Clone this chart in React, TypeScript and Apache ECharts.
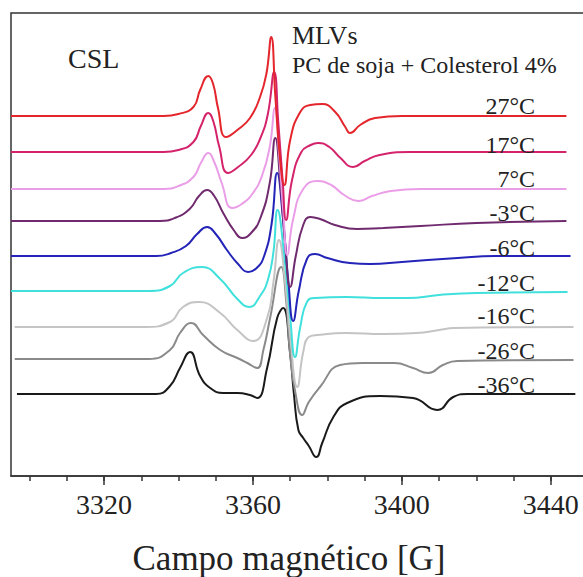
import React, { useEffect, useRef } from "react";
import * as echarts from "echarts";

// Temperatures (legend labels written on the curves)
const temperatures = ["27°C", "17°C", "7°C", "-3°C", "-6°C", "-12°C", "-16°C", "-26°C", "-36°C"];
// vertical offset of each spectrum (arbitrary intensity units)
const offsets = [360, 324, 287, 255, 220, 184, 149, 116, 82];
const colors = ["#e4252c", "#d4236b", "#eb9ee8", "#702a6e", "#2424b8", "#40e0dc", "#c4c4c4", "#8a8a8a", "#1a1a1a"];

// Spectra: [field (G), intensity relative to baseline]
const spec27 = [[3295,0],[3336,0],[3340,2],[3344,9],[3345.8,26],[3348,40],[3349.3,32],[3350.6,8],[3352.8,-21],[3355.8,-14],[3359.2,-2],[3361.9,19],[3363.6,42],[3364.9,79],[3366,20],[3367.3,-44],[3368.4,-69],[3370,-24],[3372.7,4],[3375.4,11],[3378.6,12],[3382.1,4],[3384.8,-11],[3386.1,-17],[3388.8,-9],[3392.8,-2],[3400,0],[3444.2,0]];
const spec17 = [[3295,0],[3336,0],[3340,2],[3344,10],[3346,26],[3348,39],[3349.4,30],[3350.9,6],[3353.3,-21],[3356,-15],[3359.5,-3],[3362,14],[3364,38],[3365.7,80],[3366.8,30],[3368,-30],[3368.9,-68],[3370.5,-28],[3373,0],[3375.5,7],[3377.5,9],[3380.5,5],[3383.5,-6],[3386.9,-15],[3390,-9],[3394,-3],[3402,0],[3444.2,0]];
const spec7 = [[3295,0],[3336,0],[3340,3],[3344,12],[3346,26],[3348,36],[3349.6,27],[3351.6,6],[3354.4,-19],[3357,-15],[3360,-4],[3362.5,14],[3364.5,42],[3365.9,81],[3367,35],[3368.2,-25],[3369.2,-66],[3370.8,-30],[3373.5,0],[3377.3,8],[3381,4],[3384.5,-6],[3388.3,-12],[3392,-7],[3397,-2],[3405,0],[3444.2,0]];
const specM3 = [[3295,0],[3335,0],[3339,3],[3343,12],[3345.5,25],[3347.7,31],[3349.6,25],[3352,8],[3355,-10],[3357.1,-17],[3359.5,-12],[3362,3],[3364.5,38],[3366,83],[3367.3,40],[3368.7,-25],[3370,-66],[3371.5,-35],[3373.5,-4],[3375.4,4],[3378,2],[3382,-4],[3388,-8],[3395,-7],[3405,-5],[3420,-2],[3444.2,0]];
const specM6 = [[3295,0],[3334,0],[3338,3],[3342,10],[3345,22],[3347.7,29],[3350,22],[3353,6],[3356,-8],[3358.7,-16],[3361,-12],[3363,0],[3365,32],[3366.5,83],[3368,40],[3369.5,-25],[3370.8,-65],[3372.3,-35],[3374.5,-3],[3376.7,2],[3380,-2],[3386,-7],[3391.5,-8],[3400,-6],[3415,-2],[3425,0],[3445.3,0]];
const specM12 = [[3295,1],[3332,1],[3337.7,6],[3341.2,19],[3346.3,25],[3351.2,13],[3355.8,-7],[3359,-15],[3361.9,-4],[3364,12],[3365.5,40],[3366.6,82],[3368.3,40],[3370,-25],[3371.3,-65],[3372.7,-35],[3374.5,-10],[3376.7,-6],[3385,-5],[3395,-6],[3401.5,-6],[3410,-3],[3420,-1],[3444.5,0]];
const specM16 = [[3296,0],[3331,0],[3337.7,5],[3341.2,20],[3345.5,25],[3351.2,14],[3355.8,-3],[3360.1,-14],[3363.8,9],[3365.5,45],[3367,87],[3368.5,50],[3370,-10],[3371.9,-60],[3373.5,-25],[3375,-10],[3377.3,-8],[3385,-6],[3395,-7],[3404,-6],[3410,-3],[3414,-1],[3446.1,0]];
const specM26 = [[3296,1],[3332,1],[3337.7,10],[3340.4,27],[3343.4,37],[3346.6,25],[3351.2,10],[3355.8,2],[3358.5,-3],[3361.1,-8],[3362.8,10],[3364.6,42],[3367.6,93],[3368.9,60],[3370,5],[3371.5,-35],[3373.2,-55],[3375,-42],[3378,-27],[3383.4,-5],[3389.4,-3],[3398,-3],[3403,-8],[3407.1,-13],[3411,-5],[3414.9,-1],[3446.1,0]];
const specM36 = [[3296.6,0],[3334,0],[3337.7,8],[3340.4,26],[3343.1,42],[3345.8,18],[3348.5,6],[3352,1],[3355.8,1],[3359.2,-1],[3361.1,-4],[3363.8,26],[3366.5,76],[3368.1,86],[3370,40],[3371,0],[3372.2,-36],[3373.5,-44],[3375,-52],[3377,-63],[3378.6,-49],[3381.6,-23],[3385.3,-9],[3394.2,-2],[3403,-4],[3409.5,-16],[3413.8,-3],[3417.6,0],[3446.6,0]];
const spectra = [spec27, spec17, spec7, specM3, specM6, specM12, specM16, specM26, specM36];

const minorTicks = [3300,3310,3320,3330,3340,3350,3360,3370,3380,3390,3400,3410,3420,3430,3440];
const majorTicks = [3320,3360,3400,3440];

// label layout (pixels)
const labelX = 535;
const labelY = [106, 145, 179, 213, 248, 283, 316, 351, 385];
const tickLabelY = 504;

export default function App() {
  const ref = useRef<HTMLDivElement>(null);
  useEffect(() => {
    const chart = echarts.init(ref.current!, null, { renderer: "svg" });
    const serif = "'Liberation Serif', 'Times New Roman', Times, serif";
    const axisColor = "#333";
    const texts: any[] = temperatures.map((t, i) => ({
      type: "text",
      x: labelX,
      y: labelY[i],
      style: { text: t, fontSize: 24, fontFamily: serif, fill: "#222", align: "right", verticalAlign: "middle" },
      z: 100,
    }));
    texts.push(
      { type: "text", x: 68, y: 58, style: { text: "CSL", fontSize: 28, fontFamily: serif, fill: "#222", align: "left", verticalAlign: "middle" }, z: 100 },
      { type: "text", x: 292, y: 35, style: { text: "MLVs", fontSize: 26, fontFamily: serif, fill: "#222", align: "left", verticalAlign: "middle" }, z: 100 },
      { type: "text", x: 292, y: 65, style: { text: "PC de soja + Colesterol 4%", fontSize: 24, fontFamily: serif, fill: "#222", align: "left", verticalAlign: "middle" }, z: 100 },
      { type: "text", x: 289, y: 558, style: { text: "Campo magnético [G]", fontSize: 35, fontFamily: serif, fill: "#222", align: "center", verticalAlign: "middle" }, z: 100 }
    );
    const option: any = {
      animation: false,
      textStyle: { fontFamily: serif },
      grid: { left: 11, top: 13, width: 577, height: 463, show: true, borderColor: axisColor, borderWidth: 1.5, backgroundColor: "transparent" },
      xAxis: [
        {
          type: "value", min: 3295, max: 3450, position: "bottom",
          axisLine: { show: true, lineStyle: { color: axisColor, width: 1.5 } },
          axisTick: { show: true, customValues: minorTicks, length: 5, inside: false, lineStyle: { color: axisColor, width: 1.5 } },
          axisLabel: { show: false },
          splitLine: { show: false },
        },
        {
          type: "value", min: 3295, max: 3450, position: "bottom", offset: 0,
          axisLine: { show: false },
          axisTick: { show: true, customValues: majorTicks, length: 9, inside: false, lineStyle: { color: axisColor, width: 1.5 } },
          axisLabel: { show: false },
          splitLine: { show: false },
        },
      ],
      yAxis: { type: "value", min: 0, max: 463, show: false, splitLine: { show: false } },
      series: spectra.map((s, i) => ({
        type: "line",
        name: temperatures[i],
        xAxisIndex: 0,
        data: s.map(([g, v]) => [g, v + offsets[i]]),
        showSymbol: false,
        smooth: 0.5,
        lineStyle: { color: colors[i], width: 2 },
        itemStyle: { color: colors[i] },
        z: 2 + (spectra.length - i),
      })),
      graphic: texts,
    };
    chart.setOption(option);
    // tick labels placed through the axis scale (serif font)
    const tickTexts = majorTicks.map((v) => ({
      type: "text",
      x: chart.convertToPixel({ xAxisIndex: 0 }, v) as number,
      y: tickLabelY,
      style: { text: String(v), fontSize: 28, fontFamily: serif, fill: "#222", align: "center", verticalAlign: "middle" },
      z: 100,
    }));
    chart.setOption({ graphic: [...texts, ...tickTexts] });
    return () => chart.dispose();
  }, []);
  return (
    <div
      ref={ref}
      style={{ position: "fixed", left: 0, top: 0, width: 600, height: 577, background: "#fff" }}
    />
  );
}
